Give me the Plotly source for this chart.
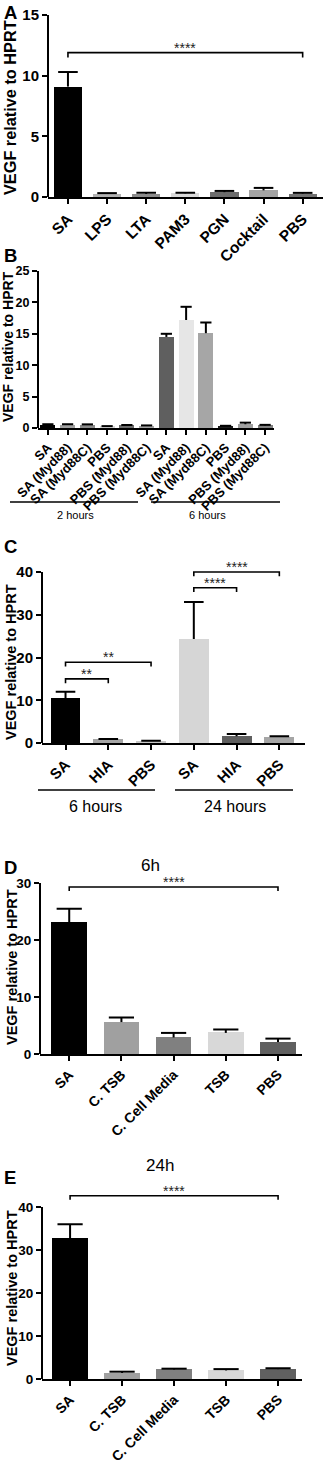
import plotly.graph_objects as go

W, H = 325, 1464
FONT = "Liberation Sans, Arial, sans-serif"

# ---------------- data ----------------
a_cats = ["SA", "LPS", "LTA", "PAM3", "PGN", "Cocktail", "PBS"]
a_vals = [9.1, 0.25, 0.25, 0.3, 0.4, 0.55, 0.28]
a_errs = [1.2, 0.07, 0.1, 0.05, 0.1, 0.2, 0.06]
a_colors = ["#000000", "#b2b2b2", "#8c8c8c", "#dadada", "#6c6c6c", "#a4a4a4", "#727272"]

b_cats = ["SA", "SA (Myd88)", "SA (Myd88C)", "PBS", "PBS (Myd88)", "PBS (Myd88C)",
          "SA", "SA (Myd88)", "SA (Myd88C)", "PBS", "PBS (Myd88)", "PBS (Myd88C)"]
b_vals = [0.5, 0.5, 0.5, 0.25, 0.4, 0.35, 14.5, 17.2, 15.1, 0.3, 0.6, 0.4]
b_errs = [0.1, 0.1, 0.08, 0.05, 0.08, 0.06, 0.5, 2.1, 1.7, 0.05, 0.25, 0.1]
b_colors = ["#000000", "#a0a0a0", "#8a8a8a", "#d8d8d8", "#6a6a6a", "#a4a4a4",
            "#5f5f5f", "#e6e6e6", "#a6a6a6", "#1a1a1a", "#a0a0a0", "#808080"]
b_groups = ["2 hours", "6 hours"]

c_cats = ["SA", "HIA", "PBS", "SA", "HIA", "PBS"]
c_vals = [10.5, 0.8, 0.45, 24.3, 1.6, 1.4]
c_errs = [1.5, 0.15, 0.05, 8.7, 0.5, 0.2]
c_colors = ["#000000", "#a6a6a6", "#c8c8c8", "#d6d6d6", "#5f5f5f", "#a6a6a6"]
c_groups = ["6 hours", "24 hours"]

d_cats = ["SA", "C. TSB", "C. Cell Media", "TSB", "PBS"]
d_vals = [23.0, 5.6, 2.9, 3.7, 2.1]
d_errs = [2.5, 0.8, 0.8, 0.6, 0.6]
d_colors = ["#000000", "#a0a0a0", "#808080", "#d8d8d8", "#606060"]

e_cats = ["SA", "C. TSB", "C. Cell Media", "TSB", "PBS"]
e_vals = [32.7, 1.4, 2.2, 2.0, 2.3]
e_errs = [3.3, 0.3, 0.2, 0.3, 0.2]
e_colors = ["#000000", "#a0a0a0", "#808080", "#d8d8d8", "#606060"]

# significance brackets: (from index, to index, level, label)
a_sig = [(0, 6, 11.9, "****")]
c_sig = [(0, 1, 15.0, "**"), (0, 2, 18.9, "**"), (3, 4, 36.3, "****"), (3, 5, 40.0, "****")]
d_sig = [(0, 4, 29.3, "****")]
e_sig = [(0, 4, 42.6, "****")]

Y_TITLE = "VEGF relative to HPRT"

# ---------------- layout spec (pixels) ----------------
panels = [
    dict(letter="A", cats=a_cats, vals=a_vals, errs=a_errs, colors=a_colors, sig=a_sig,
         left=48, right=323, y0=197, ytop=15, tmax=15, dtick=5, xr=[-0.51, 6.52], bw=0.72,
         ytick=15, xtick=15.5, tsize=16.3, tx=10, ty=108, ly=12, cap=14, drop=0.4, title=None),
    dict(letter="B", cats=b_cats, vals=b_vals, errs=b_errs, colors=b_colors, sig=[],
         left=38, right=274, y0=428, ytop=271, tmax=25, dtick=5, xr=[-0.5, 11.45], bw=0.76,
         ytick=12.5, xtick=13, tsize=14, tx=8, ty=347, ly=255, cap=8, drop=0, title=None),
    dict(letter="C", cats=c_cats, vals=c_vals, errs=c_errs, colors=c_colors, sig=c_sig,
         left=42, right=305, y0=743, ytop=572, tmax=40, dtick=10, xr=[-0.55, 5.6], bw=0.7,
         ytick=15, xtick=15, tsize=14.5, tx=11, ty=662, ly=547, cap=14, drop=1.0, title=None),
    dict(letter="D", cats=d_cats, vals=d_vals, errs=d_errs, colors=d_colors, sig=d_sig,
         left=40, right=302, y0=1054, ytop=883, tmax=30, dtick=10, xr=[-0.56, 4.46], bw=0.68,
         ytick=13.5, xtick=14, tsize=14.5, tx=12, ty=967, ly=867, cap=18, drop=0.7, title="6h",
         title_pos=(150, 865)),
    dict(letter="E", cats=e_cats, vals=e_vals, errs=e_errs, colors=e_colors, sig=e_sig,
         left=42, right=302, y0=1379, ytop=1207, tmax=40, dtick=10, xr=[-0.54, 4.46], bw=0.68,
         ytick=13.5, xtick=14, tsize=14.5, tx=12, ty=1288, ly=1177, cap=18, drop=0.9, title="24h",
         title_pos=(160, 1165)),
]


def fx(px):
    return px / W


def fy(py):
    return 1 - py / H


def fnt(size, bold=False, color="black"):
    d = dict(size=size, family=FONT, color=color)
    if bold:
        d["weight"] = "bold"
    return d


fig = go.Figure()
layout = dict(template="none", width=W, height=H, margin=dict(l=0, r=0, t=0, b=0, pad=0),
              paper_bgcolor="white", plot_bgcolor="white", showlegend=False,
              font=dict(family=FONT, color="black"))
shapes = []
annotations = []

for k, p in enumerate(panels, start=1):
    xa = "x" if k == 1 else f"x{k}"
    ya = "y" if k == 1 else f"y{k}"
    n = len(p["cats"])
    idx = list(range(n))
    ppu = (p["y0"] - p["ytop"]) / p["tmax"]
    rtop = min(p["tmax"] * 1.12, (p["y0"] - 2) / ppu)
    domtop = p["y0"] - rtop * ppu

    fig.add_trace(go.Bar(x=idx, y=p["vals"], width=[p["bw"]] * n,
                         marker=dict(color=p["colors"], line=dict(width=0)),
                         xaxis=xa, yaxis=ya, hoverinfo="skip"))
    tops = [v + e for v, e in zip(p["vals"], p["errs"])]
    fig.add_trace(go.Scatter(x=idx, y=tops, mode="markers", xaxis=xa, yaxis=ya,
                             marker=dict(symbol="line-ew", size=p["cap"], color="black",
                                         line=dict(width=2, color="black")),
                             error_y=dict(type="data", symmetric=False, array=[0] * n,
                                          arrayminus=p["errs"], width=0, thickness=2,
                                          color="black"),
                             hoverinfo="skip"))

    xkey = "xaxis" if k == 1 else f"xaxis{k}"
    ykey = "yaxis" if k == 1 else f"yaxis{k}"
    layout[xkey] = dict(domain=[fx(p["left"]), fx(p["right"])], range=p["xr"], anchor=ya,
                        automargin=False,
                        tickmode="array", tickvals=idx, ticktext=p["cats"], tickangle=-45,
                        ticks="outside", ticklen=5, tickwidth=1.5, tickcolor="black",
                        showline=True, linewidth=2, linecolor="black",
                        showgrid=False, zeroline=False,
                        tickfont=fnt(p["xtick"], True))
    yt = list(range(0, p["tmax"] + 1, p["dtick"]))
    layout[ykey] = dict(domain=[fy(p["y0"]), fy(domtop)], range=[0, rtop], anchor=xa,
                        automargin=False,
                        tickmode="array", tickvals=yt, ticks="outside", ticklen=5,
                        tickwidth=1.5, tickcolor="black", showline=False,
                        showgrid=False, zeroline=False,
                        tickfont=fnt(p["ytick"], True))
    # y axis line up to top tick
    shapes.append(dict(type="line", xref=f"{xa} domain", yref=ya, x0=0, x1=0,
                       y0=0, y1=p["tmax"], line=dict(color="black", width=2)))
    # y title
    annotations.append(dict(text=Y_TITLE, xref="paper", yref="paper", x=fx(p["tx"]),
                            y=fy(p["ty"]), textangle=-90, showarrow=False,
                            xanchor="center", yanchor="middle",
                            font=fnt(p["tsize"], True)))
    # panel letter
    annotations.append(dict(text=p["letter"], xref="paper", yref="paper", x=fx(10),
                            y=fy(p["ly"]), showarrow=False, xanchor="center",
                            yanchor="middle", font=fnt(18.5, True)))
    if p["title"]:
        tx, ty = p["title_pos"]
        annotations.append(dict(text=p["title"], xref="paper", yref="paper", x=fx(tx),
                                y=fy(ty), showarrow=False, xanchor="center",
                                yanchor="middle", font=fnt(17)))
    for (i, j, lev, lab) in p["sig"]:
        d = p["drop"]
        shapes.append(dict(type="path", xref=xa, yref=ya,
                           path=f"M {i},{lev - d} L {i},{lev} L {j},{lev} L {j},{lev - d}",
                           line=dict(color="black", width=1.6)))
        annotations.append(dict(text=lab, xref=xa, yref=ya, x=(i + j) / 2, y=lev,
                                showarrow=False, xanchor="center", yanchor="bottom",
                                yshift=-5, font=fnt(14, color="#222222")))

# group underlines for B and C
for (x0, x1, ly, lab, tx, tyy, fs) in [
    (10, 138, 502, b_groups[0], 75, 515, 11),
    (151, 280, 502, b_groups[1], 207, 515, 11),
    (38, 155, 790, c_groups[0], 95, 806, 16),
    (175, 293, 790, c_groups[1], 235, 806, 16),
]:
    shapes.append(dict(type="line", xref="paper", yref="paper", x0=fx(x0), x1=fx(x1),
                       y0=fy(ly), y1=fy(ly), line=dict(color="black", width=1.6)))
    annotations.append(dict(text=lab, xref="paper", yref="paper", x=fx(tx), y=fy(tyy),
                            showarrow=False, xanchor="center", yanchor="middle",
                            font=fnt(fs)))

layout["shapes"] = shapes
layout["annotations"] = annotations
layout["bargap"] = 0
fig.update_layout(**layout)
fig.write_html(
    "out.html",
    config={"displayModeBar": False},
    post_script="document.body.style.margin='0';document.body.style.overflow='hidden';",
)
